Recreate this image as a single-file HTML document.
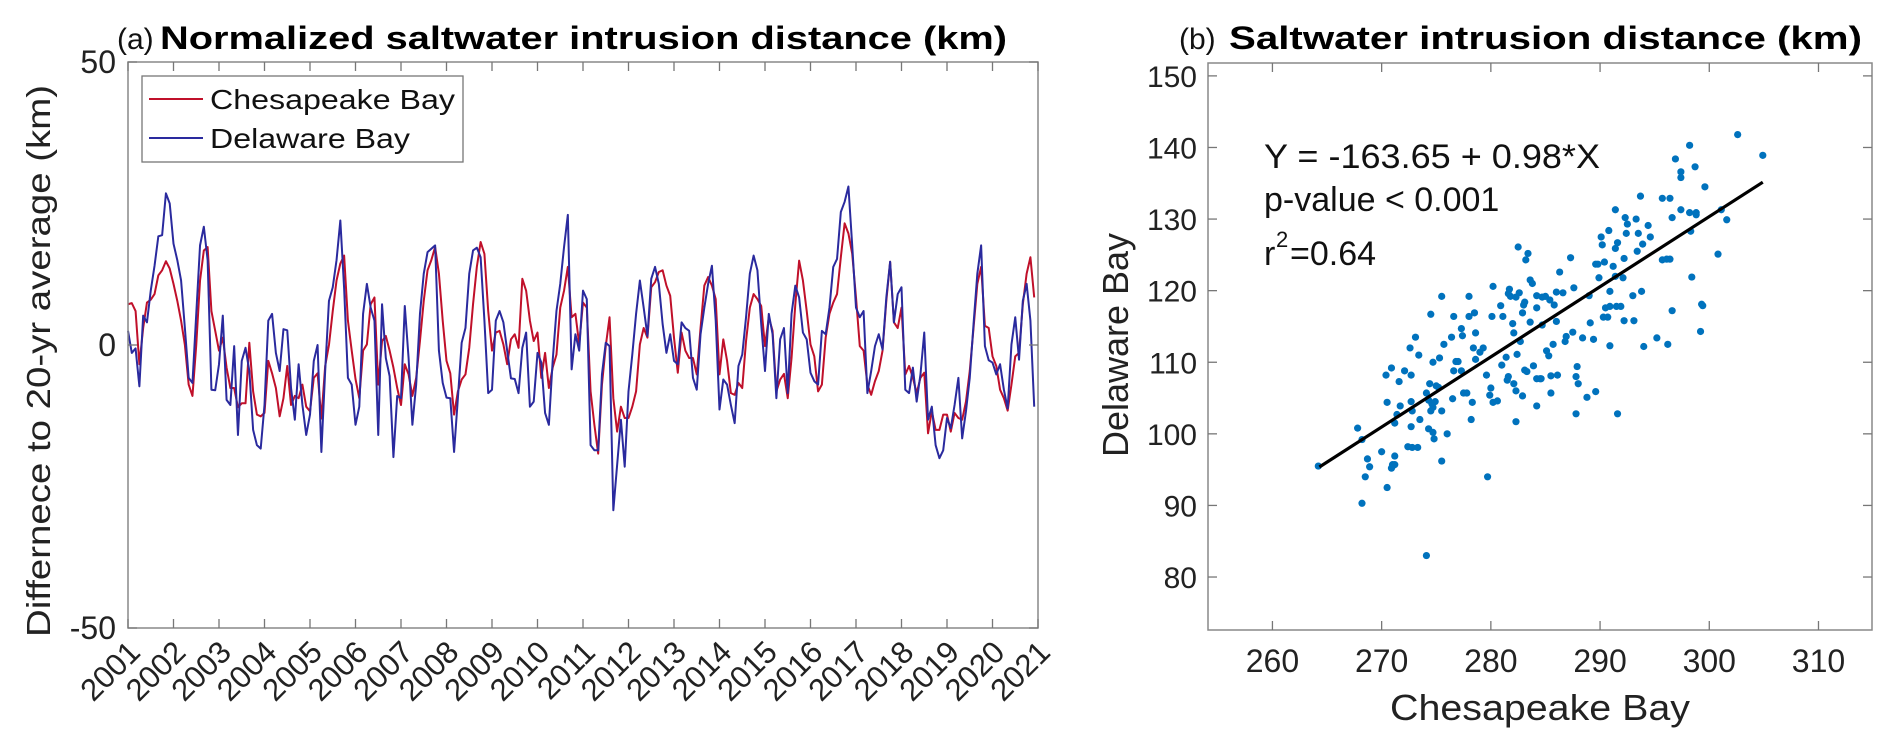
<!DOCTYPE html>
<html><head><meta charset="utf-8">
<style>
html,body{margin:0;padding:0;background:#fff;}
svg{display:block;font-family:"Liberation Sans",Arial,sans-serif;}
</style></head>
<body>
<svg id="fig" width="1892" height="748" viewBox="0 0 1892 748" xmlns="http://www.w3.org/2000/svg"></svg>
<script>
// ---------- data ----------
const years = ["2001","2002","2003","2004","2005","2006","2007","2008","2009","2010","2011","2012","2013","2014","2015","2016","2017","2018","2019","2020","2021"];
const leftYTicks = [50,0,-50];
const chesapeake = [7.2,7.4,6,-3.4,3,7.5,8,9,12.3,13.2,14.8,13.5,10.8,7.8,4.3,0,-7,-9,0,11.4,16.7,17.3,6,2.5,-1,1.3,-4,-7.6,-7.6,-11,-10.3,-10.3,0.4,-8.2,-12.3,-12.6,-12,-2.8,-5,-7.6,-12.6,-9.4,-3.7,-10.6,-9,-9.4,-7,-10.9,-11.7,-5.8,-5,-13,-3.7,0,6,11.4,14.4,15.8,4.3,-1,
-6,-9.4,-1,0.1,7.2,8.4,-7,0.7,1.6,-1,-4,-7.6,-10.6,-3.4,-5.2,-9,-5.8,0.7,7.8,13.2,15,17.3,12.6,4.3,-2.8,-5,-12.3,-8.2,-6.1,-5.2,-0.5,7.2,13.8,18.2,16.1,6,-1,2.2,2.5,0.1,-3.4,1,1.9,-0.5,11.7,9.6,4.3,0.7,2.2,-5.8,-1.4,-7.6,-4,-1.7,6.6,9.6,13.8,4.9,5.5,0.1,
7.5,6.6,-8.2,-14.1,-19.2,-7,-0.2,4.9,-9.4,-15.3,-10.9,-12.9,-12.9,-10.9,-8.2,0.1,3,1.3,10.2,11.1,12.9,13.2,10.5,8.7,1.3,-4.9,2.2,-1,-2.3,-2.3,-5.2,3,10.5,12,10.5,8.1,-5.2,1,-2.8,-8.5,-8.8,-6.7,-7.6,0.7,6.6,9,8.1,6.9,-0.2,4.9,2.5,-8.2,-6.1,-5.1,-9.4,-2.3,7.2,14.9,11.4,6,
0.1,-2,-8.2,-7,1.3,5.5,7.5,9,15.5,21.5,19.7,16.1,8.4,-0.2,-1,-7,-8.8,-6.4,-4.6,-1,7.8,14.7,4,3,6.6,-5.2,-3.7,-5.8,-8.5,-5.8,-4.9,-15.6,-11.7,-15,-15,-12.3,-12.3,-15.3,-12,-12.9,-13.2,-10,-4.6,3,10.8,13.8,3.4,3,-2,-3.7,-7.9,-9.4,-11.6,-7,-2,-1.4,7.2,12.6,15.5,8.4];
const delaware = [2.5,-1.4,-0.6,-7.3,5.2,4,9.6,14,19.2,19.4,26.8,25,17.9,15,11.4,3,-5.8,-6.7,5.5,17.6,20.9,15,-7.9,-8,-3.4,5.2,-9.7,-10.6,-0.2,-15.9,-2.8,-0.5,-4.6,-15,-17.7,-18.3,-10.6,4.3,5.5,-1.4,-4.6,2.8,2.6,-7.6,-13.2,-3.4,-10.6,-15.9,-12.3,-2.8,0,-18.9,-4.6,7.8,10.2,15,22,10,-5.8,-7,
-14.1,-10.9,5.5,10.8,6.6,4.3,-15.9,7.2,-2.3,-5.5,-19.8,-9,-9.4,6.9,-2.3,-14.1,-7,5.5,12.6,16.4,17,17.6,-1,-6.7,-9.3,-9.4,-18.9,-9.4,0.4,3,12.6,16.7,17.2,15.5,4.3,-8.5,-7.9,4.3,6,4,-1,-5.9,-6,-8.5,-0.5,2.2,-10.9,-10,-1.4,-3.1,-12,-14.1,-2.8,6,10.8,17.3,23,-4.3,1.9,-1,
9.6,8.1,-17.7,-18.6,-18.6,-5.2,0.4,-0.2,-29.2,-21.2,-13.2,-21.5,-8.2,-1.7,5.5,11.4,6.6,1.6,11.7,13.8,10.8,3.7,-1.4,1.9,-2.8,-3.4,4,3,2.5,-5.8,-7.9,1.9,6.6,10.8,14,4.3,-11.4,-6.1,-7,-10.6,-13.8,-3.7,-1.7,4.9,12.6,15.8,13.2,3.7,-4.6,5.5,1.9,-9.4,1,3,-8.5,5.5,10.5,8.4,2.2,1,
-4.9,-6.4,-7,2.5,1.9,6.6,13.8,15.2,23.5,25.3,28,17.6,6.6,4.9,6,-8.5,-4.6,-0.2,1.9,-0.8,8.4,14.7,4,9,10.2,-7.9,-8.5,-4,-10,-5.2,2.2,-13.2,-10.9,-17.7,-20,-18.6,-12.9,-14.7,-10.6,-5.8,-16.5,-11.7,-5.8,3.7,12.6,17.6,-0.2,-2.7,-3.1,-5.2,-3.4,-7.9,-11.2,0.1,4.9,-2.6,7.8,10.8,4.3,-10.9];

const scatterXTicks = [260,270,280,290,300,310];
const scatterYTicks = [80,90,100,110,120,130,140,150];
const fitIntercept = -163.65;
const fitSlope = 0.98;
const fitRange = [264.3, 304.9];
const chesX = [302.6,298.2,304.9,296.9,297.4,297.4,298.7,299.6,293.7,295.7,296.4,291.4,297.4,298.2,298.8,298.8,301.1,301.6,296.6,292.3,292.5,293.3,290.8,290.1,292.4,293.5,294.4,294.6,298.3,290.2,291.4,291.6,293.9,293.4,292.2,289.6,289.8,290.4,291.2,295.7,296.1,296.4,300.8,298.4,289.9,291.4,292.1,290.9,293.8,293,289,290.5,290.9,291.5,291.9,290.3,290.7,293.1,292.2,296.6,299.3,299.4,289.1,290.9,294,295.2,296.2,299.2,289.4,288.4,291.6,289.6,288.8,287.8,288,287.8,287.9,286.9,287.5,286.8,285.5,286.1,285.5,284.2,282.3,279.7,282.9,282.3,282.1,281.6,281.5,284.2,284.5,284.6,283.9,283.1,283.3,282.4,282.7,281,281.4,279.6,280,279.9,280.2,280.6,285.1,285.3,285.7,284.7,283.6,284.2,282,282.1,281.1,280.1,280.9,280.2,281.7,281.6,281.8,282.3,282.6,282.9,283,283.1,283.6,283.8,283.2,283.4,282.5,284.2,284.7,285,285.4,285.8,286,286.6,286,286.3,287.3,287.6,278.5,278.6,278.4,278,278,277.3,277.4,276.8,277,278.3,278.2,277.8,277.5,279,279.3,278.6,276.6,276.6,277.3,276.4,276.5,
264.2,267.8,268.2,268.7,268.9,268.5,268.2,270.5,270,270.9,271,271.2,271,271.2,270.4,270.9,271.6,272.1,272.7,270.5,271.7,271.4,271.2,272.7,272.4,272.8,273.3,272.8,272.7,274.1,273.5,272.6,273.1,273.4,274.1,274.3,274.6,274.9,274.3,274.7,274.8,274.5,274.7,274.4,274.7,275.5,276,275.5,274.5,275.5,275.3,275.7,275,275.2];
const delawareY = [141.8,140.3,138.9,138.4,136.6,135.8,137.3,134.5,133.2,132.9,132.9,131.3,131.3,130.9,130.9,130.6,131.3,129.9,130.2,130.2,129.3,130,128.4,127.5,128,128,129.1,127.5,128.3,126.4,125.9,126.7,126.5,125.5,124.5,123.7,123.7,124,123.4,124.3,124.4,124.4,125.1,121.9,121.8,122,121.8,119.9,119.9,119.3,119.3,117.6,117.8,117.8,117.8,116.3,116.3,115.8,115.8,117.2,118.1,117.9,115.5,112.3,112.2,113.4,112.5,114.3,113.2,113.4,102.8,105.9,105.1,102.8,107,108,109.4,113.6,114.2,112.9,108.1,108.2,105.7,103.9,101.7,94,105.3,106,107,108,107.5,107.7,107.7,107.7,109.5,108.9,108.7,111.1,112.9,109.6,110.7,108.2,106.4,105.4,104.4,104.6,111.6,110.9,112.5,115.2,115.6,117.6,115.4,114.1,116.4,116.4,117.9,120.6,120.2,119.6,119.2,119.1,119.7,116.9,118,118.4,121.5,121,124.3,125.2,126.1,119.3,119.1,119.2,118.7,118,119.8,119.7,115.7,122.6,124.6,120.4,116.9,114.1,112,119.2,116.4,114.7,113.7,110.1,110.1,104.4,102,105.7,105.7,111.4,112,110.4,116.4,108.8,108.8,113.5,104.9,
95.5,100.8,99.2,96.5,95.4,94,90.3,92.5,97.5,95.2,95.5,95.7,95.7,96.9,108.2,109.2,107.3,108.8,108.2,104.4,103.9,102.7,101.5,101,98.2,98.1,98.1,103.2,104.5,83,102,112,113.5,111,105.7,104.7,104.2,104.5,100.7,100.2,99.3,103.2,103.7,107,110,96.2,100,103.2,116.7,119.2,110.6,112.5,106.7,106.5];

// ---------- helpers ----------
const NS = "http://www.w3.org/2000/svg";
const svg = document.getElementById('fig');
function mk(tag, attrs, parent){
  const e = document.createElementNS(NS, tag);
  for (const k in attrs) e.setAttribute(k, attrs[k]);
  (parent||svg).appendChild(e);
  return e;
}
// ---------- left panel ----------
const L = {x0:128, x1:1038, y0:62, y1:628};
const lx = v => L.x0 + (v - 2001) / 20 * (L.x1 - L.x0);
const ly = v => L.y0 + (50 - v) / 100 * (L.y1 - L.y0);

const gL = mk('g', {});



let t = mk('text', {x:117, y:49, 'font-size':30, fill:'#111'}, gL);
t.textContent = '(a)';


t = mk('text', {x:160, y:49, 'font-size':32, 'font-weight':'bold', fill:'#000', textLength:847, lengthAdjust:'spacingAndGlyphs'}, gL);
t.textContent = 'Normalized saltwater intrusion distance (km)';



function linePath(arr){
  return arr.map((v,i)=> (i?'L':'M') + lx(2001 + i/12).toFixed(2) + ' ' + ly(v).toFixed(2)).join(' ');
}
let p = mk('path', {d:linePath(chesapeake), fill:'none', stroke:'#c0102a', 'stroke-width':2, 'stroke-linejoin':'round'}, gL);


p = mk('path', {d:linePath(delaware), fill:'none', stroke:'#2a2a9e', 'stroke-width':2, 'stroke-linejoin':'round'}, gL);



let r = mk('rect', {x:L.x0, y:L.y0, width:L.x1-L.x0, height:L.y1-L.y0, fill:'none', stroke:'#888', 'stroke-width':1.5}, gL);



years.forEach((yr)=>{
  const x = lx(+yr);
  mk('line', {x1:x, x2:x, y1:L.y1, y2:L.y1-9, stroke:'#777', 'stroke-width':1.3}, gL);
  mk('line', {x1:x, x2:x, y1:L.y0, y2:L.y0+9, stroke:'#777', 'stroke-width':1.3}, gL);
  const ax = x+14, ay = L.y1+26;
  const lbl = mk('text', {x:ax, y:ay, 'font-size':31, 'text-anchor':'end', fill:'#222', transform:`rotate(-45 ${ax} ${ay})`}, gL);
  lbl.textContent = yr;
  
  
});
leftYTicks.forEach(v=>{
  const y = ly(v);
  mk('line', {x1:L.x0, x2:L.x0+9, y1:y, y2:y, stroke:'#777', 'stroke-width':1.3}, gL);
  mk('line', {x1:L.x1, x2:L.x1-9, y1:y, y2:y, stroke:'#777', 'stroke-width':1.3}, gL);
  const lbl = mk('text', {x:L.x0-12, y:y+11, 'font-size':32, 'text-anchor':'end', fill:'#222'}, gL);
  lbl.textContent = String(v);
  
  
});
t = mk('text', {x:0, y:0, 'font-size':33, 'text-anchor':'middle', fill:'#222', transform:'translate(50 361) rotate(-90)', textLength:552, lengthAdjust:'spacingAndGlyphs'}, gL);
t.textContent = 'Differnece to 20-yr average (km)';



// legend
const gLeg = mk('g', {}, gL);


mk('rect', {x:142, y:76, width:321, height:86, fill:'#fff', stroke:'#777', 'stroke-width':1.3}, gLeg);
const leg1 = mk('g', {}, gLeg);


mk('line', {x1:149, x2:203, y1:99, y2:99, stroke:'#c0102a', 'stroke-width':2}, leg1);
t = mk('text', {x:210, y:109, 'font-size':28, fill:'#111', textLength:245, lengthAdjust:'spacingAndGlyphs'}, leg1);
t.textContent = 'Chesapeake Bay';
const leg2 = mk('g', {}, gLeg);


mk('line', {x1:149, x2:203, y1:138, y2:138, stroke:'#2a2a9e', 'stroke-width':2}, leg2);
t = mk('text', {x:210, y:148, 'font-size':28, fill:'#111', textLength:200, lengthAdjust:'spacingAndGlyphs'}, leg2);
t.textContent = 'Delaware Bay';

// ---------- right panel ----------
const R = {x0:1208, x1:1872, y0:63, y1:630, xmin:254.1, xmax:314.9, ymin:72.6, ymax:151.8};
const sx = v => R.x0 + (v - R.xmin) / (R.xmax - R.xmin) * (R.x1 - R.x0);
const sy = v => R.y1 - (v - R.ymin) / (R.ymax - R.ymin) * (R.y1 - R.y0);

const gR = mk('g', {});



t = mk('text', {x:1179, y:49, 'font-size':30, fill:'#111'}, gR);
t.textContent = '(b)';


t = mk('text', {x:1229, y:49, 'font-size':32, 'font-weight':'bold', fill:'#000', textLength:633, lengthAdjust:'spacingAndGlyphs'}, gR);
t.textContent = 'Saltwater intrusion distance (km)';



chesX.forEach((xv,i)=>{
  const c = mk('circle', {cx:sx(xv).toFixed(2), cy:sy(delawareY[i]).toFixed(2), r:3.6, fill:'#0072bd'}, gR);
  
  
});
const fl = mk('line', {x1:sx(fitRange[0]), y1:sy(fitIntercept+fitSlope*fitRange[0]), x2:sx(fitRange[1]), y2:sy(fitIntercept+fitSlope*fitRange[1]), stroke:'#000', 'stroke-width':3.2}, gR);



r = mk('rect', {x:R.x0, y:R.y0, width:R.x1-R.x0, height:R.y1-R.y0, fill:'none', stroke:'#888', 'stroke-width':1.5}, gR);



scatterXTicks.forEach(v=>{
  const x = sx(v);
  mk('line', {x1:x, x2:x, y1:R.y1, y2:R.y1-9, stroke:'#777', 'stroke-width':1.3}, gR);
  mk('line', {x1:x, x2:x, y1:R.y0, y2:R.y0+9, stroke:'#777', 'stroke-width':1.3}, gR);
  const lbl = mk('text', {x:x, y:R.y1+42, 'font-size':32, 'text-anchor':'middle', fill:'#222'}, gR);
  lbl.textContent = String(v);
  
  
});
scatterYTicks.forEach(v=>{
  const y = sy(v);
  mk('line', {x1:R.x0, x2:R.x0+9, y1:y, y2:y, stroke:'#777', 'stroke-width':1.3}, gR);
  mk('line', {x1:R.x1, x2:R.x1-9, y1:y, y2:y, stroke:'#777', 'stroke-width':1.3}, gR);
  const lbl = mk('text', {x:R.x0-11, y:y+11, 'font-size':30, 'text-anchor':'end', fill:'#222'}, gR);
  lbl.textContent = String(v);
  
  
});
t = mk('text', {x:1540, y:720, 'font-size':36, 'text-anchor':'middle', fill:'#222', textLength:300, lengthAdjust:'spacingAndGlyphs'}, gR);
t.textContent = 'Chesapeake Bay';


t = mk('text', {x:0, y:0, 'font-size':36, 'text-anchor':'middle', fill:'#222', transform:'translate(1128 345) rotate(-90)'}, gR);
t.textContent = 'Delaware Bay';



const gAnn = mk('g', {}, gR);


t = mk('text', {x:1264, y:168, 'font-size':34, fill:'#111', textLength:336, lengthAdjust:'spacingAndGlyphs'}, gAnn);
t.textContent = 'Y = -163.65 + 0.98*X';
t = mk('text', {x:1264, y:211, 'font-size':34, fill:'#111'}, gAnn);
t.textContent = 'p-value < 0.001';
t = mk('text', {x:1264, y:265, 'font-size':34, fill:'#111'}, gAnn);
t.textContent = 'r';
t = mk('text', {x:1276, y:247, 'font-size':22, fill:'#111'}, gAnn);
t.textContent = '2';
t = mk('text', {x:1290, y:265, 'font-size':34, fill:'#111'}, gAnn);
t.textContent = '=0.64';
</script>
</body></html>
